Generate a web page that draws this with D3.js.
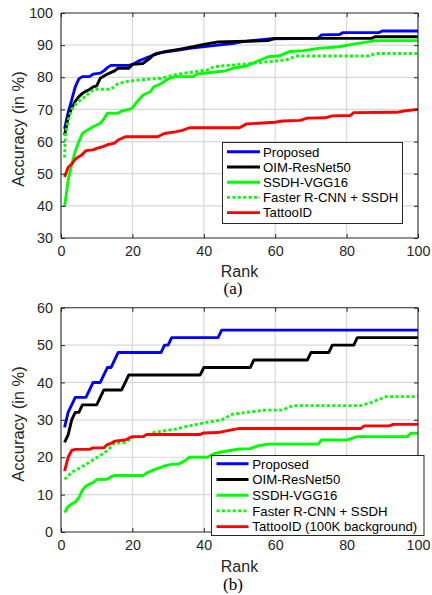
<!DOCTYPE html>
<html>
<head>
<meta charset="utf-8">
<script src="https://cdn.jsdelivr.net/npm/d3@7"></script>
<style>
html,body{margin:0;padding:0;background:#fff;}
svg{display:block;font-family:"Liberation Sans",Arial,sans-serif;}
</style>
</head>
<body>
<svg id="chart" width="432" height="595"></svg>
<script>
// ---------- DATA ----------
const seriesNames = ["Proposed","OIM-ResNet50","SSDH-VGG16","Faster R-CNN + SSDH","TattooID"];
const seriesNamesB = ["Proposed","OIM-ResNet50","SSDH-VGG16","Faster R-CNN + SSDH","TattooID (100K background)"];
const xTicks = [0,20,40,60,80,100];
const yTicksA = [30,40,50,60,70,80,90,100];
const yTicksB = [0,10,20,30,40,50,60];

// Panel (a): [rank, accuracy]
const proposedA = [[1,64],[2,69],[3,73],[4,77],[5,79.5],[6,80.2],[8,80.2],[9,81],[11,81.3],[12,82],[13,83],[14,83.7],[19,83.7],[20,84],[22,85.2],[25,86.5],[27,87.5],[30,88],[33,88.5],[36,89],[39,89.4],[44,90],[48,90.5],[51,91.1],[59,92],[72,92.1],[73,93.2],[78,93.3],[79,93.9],[89,93.9],[90,94.4],[100,94.4]];
const oimA = [[1,62],[2,67.5],[3,70.5],[4,72.5],[5,74],[6,75],[7,75.7],[8,76.2],[9,77],[10,77.3],[11,79.7],[13,81],[15,82],[16,82.8],[19,82.8],[20,84],[23,84.3],[25,86],[26,87],[29,88],[33,88.7],[37,89.5],[40,90.2],[44,91],[58,91.4],[60,92.1],[87,92.1],[88,92.6],[100,92.6]];
const ssdhA = [[1,39.7],[2,48],[3,53],[4,57],[5,60],[6,62.5],[7,63.3],[9,64.6],[11,65.7],[12,67],[13,68.8],[16,68.8],[17,69.5],[19,70],[20,70.4],[21,72],[23,74.5],[25,75.5],[26,77],[28,78],[30,79.5],[32,80.2],[37,80.2],[38,81],[42,81.5],[46,82],[48,82.8],[52,83.5],[55,85],[58,86.4],[61,86.6],[64,88],[68,88.3],[72,89],[78,89.5],[82,90.3],[86,91],[88,91.4],[100,91.4]];
const fasterA = [[1,55],[1.2,62],[2,66.5],[3,70],[4,71.5],[5,72.5],[6,73.5],[7,74],[8,75.5],[10,76.3],[14,76.3],[16,78],[19,78.8],[22,79.2],[28,79.7],[33,81],[41,82.3],[43,83.3],[50,84],[55,84.5],[63,85.4],[66,86.6],[86,86.6],[88,87.4],[100,87.4]];
const tattooA = [[1,49],[2,52],[3,53],[4,54.5],[5,55.3],[6,56],[7,57.2],[9,57.4],[10,57.9],[12,58.5],[13,59],[15,59.5],[16,60.5],[18,61.5],[27,61.5],[29,62.5],[32,63],[34,63.5],[36,64.3],[50,64.3],[52,65.5],[60,66],[62,66.4],[67,66.6],[69,67.3],[74,67.4],[76,68],[81,68.1],[82,69],[94,69.1],[96,69.5],[100,70]];

// Panel (b)
const proposedB = [[1,28],[2,32],[3,34],[4,36],[7,36],[8,38],[9,40],[11,40],[12,42],[13,44],[14,44],[15,46],[16,48],[28,48],[29,50],[30,50],[31,52],[44,52],[45,54],[100,54]];
const oimB = [[1,24],[2,26],[3,30],[4,32],[5,32],[6,34],[10,34],[11,36],[12,38],[17,38],[18,40],[19,42],[39,42],[40,44],[53,44],[54,46],[69,46],[70,48],[75,48],[76,50],[82,50],[83,52],[100,52]];
const ssdhB = [[1,5.2],[2,6.8],[3,7.5],[4,8],[5,9.2],[6,11.2],[7,12.3],[8,12.8],[9,13.2],[10,14],[13,14.1],[14,14.8],[15,15.1],[23,15.1],[24,15.8],[26,16.6],[28,17.3],[29,17.7],[31,18.1],[33,18.2],[35,19.2],[36,20],[41,20],[43,21],[46,21.6],[50,22.2],[53,22.3],[55,23],[58,23.5],[72,23.5],[73,24.6],[80,24.6],[83,25.5],[97,25.5],[98,26.4],[100,26.4]];
const fasterB = [[1,14.1],[3,16],[6,17.5],[9,19.3],[11,20.5],[13,21.8],[15,23.8],[18,23.9],[20,25.3],[23,25.5],[26,26.6],[29,27.1],[32,27.5],[35,28.2],[39,29],[45,30],[48,31.5],[57,32.6],[62,32.6],[65,33.8],[84,33.8],[87,34.7],[91,36.2],[100,36.2]];
const tattooB = [[1,16.3],[2,20],[3,21.8],[4,22.1],[8,22.1],[9,22.5],[12,22.5],[13,23.4],[14,23.7],[15,24.3],[18,24.6],[19,25.1],[20,25.5],[23,25.5],[24,26.1],[39,26.1],[40,26.5],[44,26.6],[46,27],[50,27.7],[84,27.7],[85,28.4],[92,28.4],[93,28.8],[100,28.8]];

// ---------- STYLES ----------
const colors = ["#0000ff","#000000","#00ff00","#00ff00","#ff0000"];
const dashes = [null,null,null,"3,2.4",null];

const svg = d3.select("#chart");

function panel(cfg){
  const {left,right,top,bottom,yDomain,yTicks,series,names,legend,caption,captionY,rankY,ylabelY} = cfg;
  const x = d3.scaleLinear().domain([0,100]).range([left,right]);
  const y = d3.scaleLinear().domain(yDomain).range([bottom,top]);
  const g = svg.append("g");

  // grid
  g.append("g").selectAll("line").data(xTicks.slice(1,-1)).join("line")
    .attr("x1",d=>x(d)).attr("x2",d=>x(d)).attr("y1",top).attr("y2",bottom)
    .attr("stroke","#d8d8d8").attr("stroke-width",1.2);
  g.append("g").selectAll("line").data(yTicks.slice(1,-1)).join("line")
    .attr("y1",d=>y(d)).attr("y2",d=>y(d)).attr("x1",left).attr("x2",right)
    .attr("stroke","#d8d8d8").attr("stroke-width",1.2);

  // series
  const line = d3.line().x(d=>x(d[0])).y(d=>y(d[1]));
  series.forEach((s,i)=>{
    g.append("path").datum(s).attr("d",line).attr("fill","none")
      .attr("stroke",colors[i]).attr("stroke-width",2.9)
      .attr("stroke-linejoin","round")
      .attr("stroke-dasharray",dashes[i]);
  });

  // axes
  const ax = g.append("g").attr("transform",`translate(0,${bottom})`)
    .call(d3.axisBottom(x).tickValues(xTicks).tickSize(-4).tickPadding(8).tickFormat(d3.format("d")));
  const ay = g.append("g").attr("transform",`translate(${left},0)`)
    .call(d3.axisLeft(y).tickValues(yTicks).tickSize(-4).tickPadding(8).tickFormat(d3.format("d")));
  const axT = g.append("g").attr("transform",`translate(0,${top})`)
    .call(d3.axisTop(x).tickValues(xTicks).tickSize(-4).tickFormat(""));
  const ayR = g.append("g").attr("transform",`translate(${right},0)`)
    .call(d3.axisRight(y).tickValues(yTicks).tickSize(-4).tickFormat(""));
  [ax,ay,axT,ayR].forEach(a=>{
    a.select(".domain").attr("stroke","#262626").attr("stroke-width",1.1);
    a.selectAll(".tick line").attr("stroke","#262626");
    a.selectAll(".tick text").attr("fill","#262626").style("font-size","14.3px")
      .style("font-family","'Liberation Sans',Arial,sans-serif");
  });
  ax.select(".domain").attr("d",`M${left},0H${right}`);
  ay.select(".domain").attr("d",`M0,${top}V${bottom}`);
  axT.select(".domain").attr("d",`M${left},0H${right}`);
  ayR.select(".domain").attr("d",`M0,${top}V${bottom}`);

  // axis labels
  g.append("text").attr("x",(left+right)/2).attr("y",rankY).attr("text-anchor","middle")
    .style("font-size","16px").attr("fill","#262626").text("Rank");
  g.append("text").attr("transform",`translate(24,${ylabelY}) rotate(-90)`).attr("text-anchor","middle")
    .style("font-size","16.5px").attr("fill","#262626").text("Accuracy (in %)");
  g.append("text").attr("x",233).attr("y",captionY).attr("text-anchor","middle")
    .style("font-family","'Liberation Serif','Times New Roman',serif").style("font-size","17px")
    .attr("fill","#000").text(caption);

  // legend
  const L = legend;
  const lg = g.append("g");
  lg.append("rect").attr("x",L.x).attr("y",L.y).attr("width",L.w).attr("height",L.h)
    .attr("fill","#fff").attr("stroke","#262626").attr("stroke-width",1);
  names.forEach((n,i)=>{
    const cy = L.row0 + i*L.step;
    lg.append("line").attr("x1",L.lx1).attr("x2",L.lx2).attr("y1",cy).attr("y2",cy)
      .attr("stroke",colors[i]).attr("stroke-width",2.9).attr("stroke-dasharray",dashes[i]);
    lg.append("text").attr("x",L.tx).attr("y",cy+4.7).style("font-size","13.2px")
      .attr("fill","#000").text(n);
  });
}

panel({left:61,right:418,top:13,bottom:238,yDomain:[30,100],yTicks:yTicksA,
  series:[proposedA,oimA,ssdhA,fasterA,tattooA],names:seriesNames,
  legend:{x:222.5,y:142.5,w:180,h:81,row0:151.8,step:15.2,lx1:227,lx2:260,tx:263},
  caption:"(a)",captionY:294,rankY:277,ylabelY:129});

panel({left:61,right:418,top:307.7,bottom:532,yDomain:[0,60],yTicks:yTicksB,
  series:[proposedB,oimB,ssdhB,fasterB,tattooB],names:seriesNamesB,
  legend:{x:211.5,y:455.5,w:212.5,h:80,row0:463.8,step:15.7,lx1:216.5,lx2:248.5,tx:252.3},
  caption:"(b)",captionY:590,rankY:571.5,ylabelY:424});
</script>
</body>
</html>
